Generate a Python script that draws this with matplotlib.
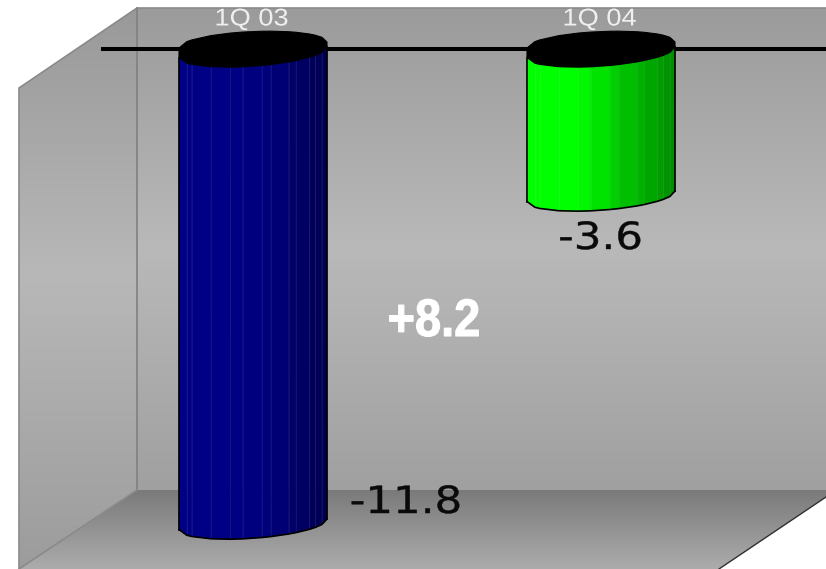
import numpy as np
import matplotlib
matplotlib.use("Agg")
import matplotlib.pyplot as plt
import matplotlib.patheffects as pe
from matplotlib.colors import LinearSegmentedColormap
from matplotlib.patches import Polygon
from matplotlib.transforms import Affine2D

quarters = ["1Q 03", "1Q 04"]
results = [-11.8, -3.6]
value_labels = ["-11.8", "-3.6"]
change_label = "+8.2"
bar_light = ["#000084", "#00ff00"]
bar_mid = ["#000078", "#00c400"]
bar_dark = ["#000050", "#008c00"]

W, H = 826, 569
fig = plt.figure(figsize=(W / 100, H / 100), dpi=100)
ax = fig.add_axes([0, 0, 1, 1])

# one category spans 348 px, one unit of value spans 40 px
px_x, px_y = 348.0, 40.0
ax.set_xlim(-253 / px_x, (W - 253) / px_x)
ax.set_ylim(-(H - 49) / px_y, 49 / px_y)
ax.axis("off")
X = lambda p: (p - 253) / px_x
Y = lambda p: (49 - p) / px_y


def shaded(poly, stops, y0, y1, z):
    """Fill a pixel-space polygon with a vertical grey gradient."""
    cmap = LinearSegmentedColormap.from_list("g", stops)
    grad = np.linspace(0, 1, 256).reshape(-1, 1)
    im = ax.imshow(grad, cmap=cmap, aspect="auto", zorder=z, interpolation="bilinear",
                   extent=(X(0), X(W), Y(y1), Y(y0)), origin="upper")
    patch = Polygon([(X(a), Y(b)) for a, b in poly], closed=True, transform=ax.transData,
                    fc="none", ec="none")
    ax.add_patch(patch)
    im.set_clip_path(patch)


shaded([(137, 8), (W, 8), (W, 490), (137, 490)],
       [(0, "#9b9b9b"), (0.5, "#b9b9b9"), (1, "#a0a0a0")], 8, 490, 1)
shaded([(19, 88), (137, 8), (137, 490), (19, 569)],
       [(0, "#999999"), (0.475, "#b8b8b8"), (1, "#9c9c9c")], 8, 569, 1)
shaded([(137, 490), (W, 490), (W, 497), (719, 569), (19, 569)],
       [(0, "#7a7a7a"), (1, "#acacac")], 490, 569, 1)

# wall and floor edges
for pts, col, lw in [
    ([(19, 569), (19, 88), (137, 8), (W, 8)], "#8a8a8a", 1.2),
    ([(137, 8), (137, 490)], "#808080", 1.2),
    ([(137, 490), (19, 569)], "#8a8a8a", 1.2),
    ([(W, 497), (719, 569)], "#303030", 1.0),
]:
    ax.plot(*zip(*[(X(a), Y(b)) for a, b in pts]), color=col, lw=lw, zorder=2)

# zero line
ax.plot([X(101), X(W)], [0, 0], color="black", lw=2.9, zorder=3, solid_capstyle="butt")

half_w = 74 / px_x
facets = np.array([-1, -.895, -.83, -.57, -.31, -.14, .12, .24, .48, .58, .76, .84, .93, 1.0])


def bulge(u):
    return np.sqrt(np.clip(1 - u ** 2, 0, 1))


def front_rim(u):
    """Near edge of the tilted drum mouth, relative to the zero line."""
    return (-3.25 + 5.25 * u - 14 * bulge(u)) / px_y


def back_rim(u):
    """Far edge of the drum mouth, relative to the zero line."""
    return (4 + 3 * u + 13.5 * bulge(u)) / px_y


def drum(i, value):
    cx = i
    fy = front_rim(facets)
    cmap = LinearSegmentedColormap.from_list(
        "b", [(0, bar_light[i]), (0.35, bar_light[i]), (0.65, bar_mid[i]), (1, bar_dark[i])])
    for k in range(len(facets) - 1):
        a, b = facets[k], facets[k + 1]
        px = cx + half_w * np.array([a, b])
        ty = fy[k:k + 2]
        verts = [(px[0], ty[0]), (px[1], ty[1]), (px[1], ty[1] + value), (px[0], ty[0] + value)]
        shade = cmap((a + b) / 4 + 0.5)
        ax.add_patch(Polygon(verts, closed=True, fc=shade, ec=shade, lw=0.3, zorder=4))
        if k > 0:
            ax.plot([px[0], px[0]], [ty[0], ty[0] + value], color="white", lw=0.5, alpha=0.1, zorder=4.2)
    # silhouette
    ax.plot(cx + half_w * facets, fy + value, color="black", lw=1.2, zorder=5)
    ax.plot([cx - half_w] * 2, [fy[0], fy[0] + value], color="black", lw=1.2, zorder=5)
    ax.plot([cx + half_w] * 2, [fy[-1], fy[-1] + value], color="black", lw=1.2, zorder=5)
    # black cap at the zero line
    cap = list(zip(cx + half_w * facets, fy)) + list(zip(cx + half_w * facets[::-1], back_rim(facets[::-1])))
    ax.add_patch(Polygon(cap, closed=True, fc="black", ec="black", lw=0.8, zorder=6))


for i, v in enumerate(results):
    drum(i, v)


class Stretch(pe.AbstractPathEffect):
    """Scale glyphs horizontally about a pixel column, with an optional outline."""

    def __init__(self, sx, cx, stroke=0.0):
        super().__init__()
        self.sx, self.cx, self.stroke = sx, cx, stroke

    def draw_path(self, renderer, gc, tpath, affine, rgbFace=None):
        scaled = affine + Affine2D().translate(-self.cx, 0).scale(self.sx, 1).translate(self.cx, 0)
        gc0 = renderer.new_gc()
        gc0.copy_properties(gc)
        gc0.set_foreground(rgbFace)
        gc0.set_linewidth(self.stroke)
        renderer.draw_path(gc0, tpath, scaled, rgbFace)
        gc0.restore()


for i, q in enumerate(quarters):
    cx = 251.5 + 348 * i
    ax.text(X(cx), Y(19.5), q, color="#efefef", fontsize=17.5, ha="center", va="center",
            family="Liberation Sans", zorder=7, path_effects=[Stretch(1.12, cx)])

for label, cx, cy in zip(value_labels, (406, 600.5), (503, 239)):
    ax.text(X(cx), Y(cy), label, fontsize=27, ha="center", va="center", family="DejaVu Sans",
            color="#0a0a0a", zorder=7, path_effects=[Stretch(1.16, cx, 0.3)])

ax.text(X(434), Y(322), change_label, fontsize=38, ha="center", va="center", color="white",
        family="Liberation Sans", weight="bold", zorder=7,
        path_effects=[Stretch(0.89, 434, 0.8)])

fig.savefig("out.png", dpi=100, facecolor="white")
